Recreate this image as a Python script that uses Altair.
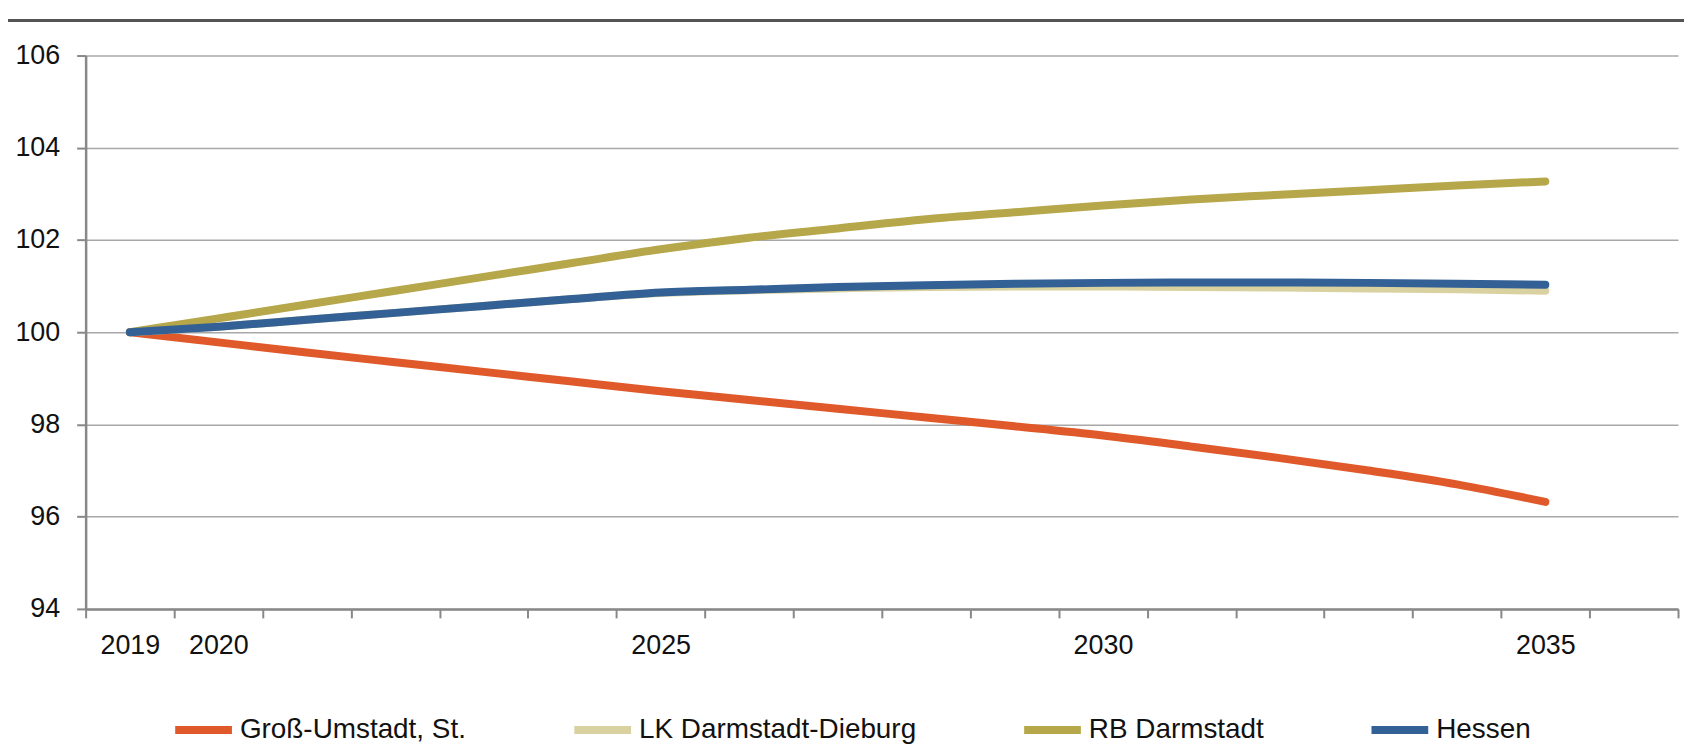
import altair as alt
import pandas as pd

years = [str(y) for y in range(2019, 2036)]
domain_years = [str(y) for y in range(2019, 2037)]
shown_labels = ["2019", "2020", "2025", "2030", "2035"]

series_names = ["Groß-Umstadt, St.", "LK Darmstadt-Dieburg", "RB Darmstadt", "Hessen"]
series_colors = ["#E0592A", "#D9D2A0", "#B6A74A", "#336095"]

gross_umstadt = [100.0, 99.78, 99.56, 99.35, 99.14, 98.93, 98.72, 98.53, 98.34, 98.15,
                 97.96, 97.76, 97.52, 97.27, 97.0, 96.7, 96.32]
lk_darmstadt_dieburg = [100.0, 100.12, 100.27, 100.42, 100.57, 100.72, 100.85, 100.91, 100.95,
                        100.98, 100.99, 100.99, 100.98, 100.97, 100.95, 100.93, 100.9]
rb_darmstadt = [100.0, 100.3, 100.6, 100.9, 101.2, 101.5, 101.8, 102.05, 102.25, 102.45,
                102.6, 102.75, 102.88, 102.98, 103.08, 103.18, 103.27]
hessen = [100.0, 100.12, 100.27, 100.42, 100.57, 100.72, 100.86, 100.92, 100.98, 101.02,
          101.05, 101.07, 101.08, 101.08, 101.07, 101.05, 101.03]

all_values = [gross_umstadt, lk_darmstadt_dieburg, rb_darmstadt, hessen]
rows = []
for name, vals in zip(series_names, all_values):
    for yr, v in zip(years, vals):
        rows.append({"Jahr": yr, "Wert": v, "Reihe": name})
df = pd.DataFrame(rows)

FONT = "Liberation Sans Narrow, Arial Narrow, Liberation Sans, Arial, sans-serif"

label_expr = "indexof(" + str(shown_labels) + ", datum.label) >= 0 ? datum.label : ''"

lines = alt.Chart(df).mark_line(strokeWidth=8, interpolate="monotone", strokeCap="round").encode(
    x=alt.X("Jahr:O",
            scale=alt.Scale(type="band", domain=domain_years, paddingInner=0, paddingOuter=0),
            sort=domain_years,
            axis=alt.Axis(title=None, labelAngle=0, tickBand="extent", labelExpr=label_expr,
                          tickSize=9, tickColor="#888888", tickWidth=2,
                          domainColor="#888888", domainWidth=2.5,
                          labelFontSize=27, labelFont=FONT, labelColor="#111111",
                          labelPadding=15, grid=False)),
    y=alt.Y("Wert:Q",
            scale=alt.Scale(domain=[94, 106], nice=False, zero=False),
            axis=alt.Axis(title=None, values=[94, 96, 98, 100, 102, 104, 106],
                          tickSize=9, tickColor="#888888", tickWidth=2,
                          domainColor="#888888", domainWidth=2.5,
                          gridColor="#A8A8A8", gridWidth=1.5,
                          labelFontSize=27, labelFont=FONT, labelColor="#111111",
                          labelPadding=17)),
    color=alt.Color("Reihe:N",
                    scale=alt.Scale(domain=series_names, range=series_colors),
                    sort=series_names,
                    legend=alt.Legend(title=None, orient="none", legendX=86, legendY=645,
                                      padding=0,
                                      direction="horizontal", columns=4, columnPadding=92,
                                      symbolType="stroke", symbolSize=3249, symbolStrokeWidth=8,
                                      labelFontSize=28, labelFont=FONT, labelColor="#111111",
                                      labelOffset=4, labelLimit=400)),
    order=alt.Order("Reihe:N", sort="ascending"),
)

top_rule = alt.Chart(df).mark_rule(color="#555555", strokeWidth=2).encode(
    x=alt.value(-78), x2=alt.value(1606), y=alt.value(-35)
)

chart = alt.layer(top_rule, lines).properties(
    width=1600, height=556,
    autosize=alt.AutoSizeParams(type="none"),
    padding={"left": 78, "top": 46, "right": 6, "bottom": 138},
).configure_view(strokeWidth=0)

chart.save("out.html", embed_options={"renderer": "svg", "actions": False})
